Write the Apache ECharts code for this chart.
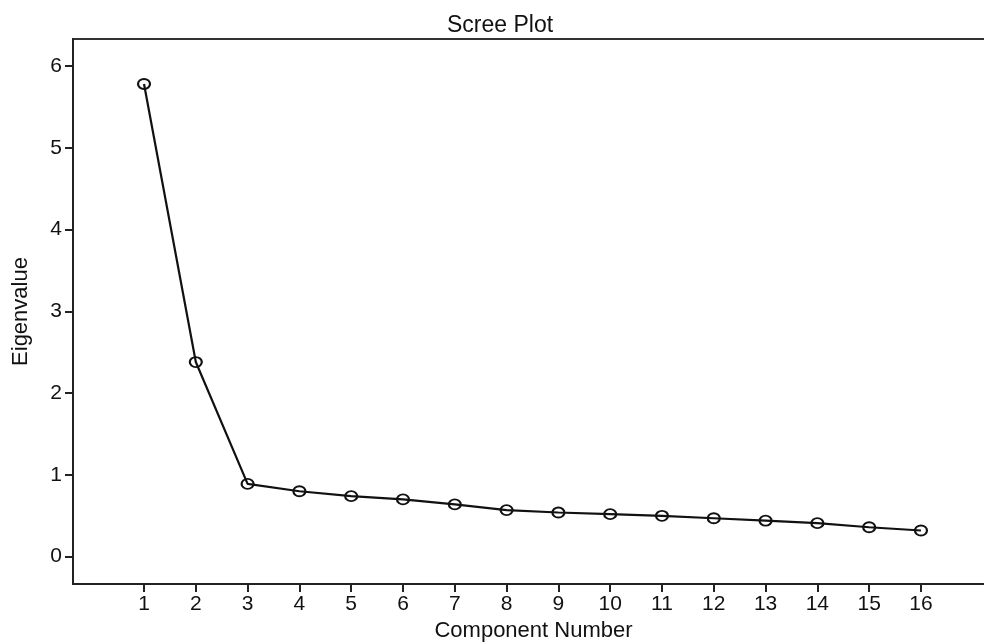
<!DOCTYPE html>
<html>
<head>
<meta charset="utf-8">
<script src="https://cdn.jsdelivr.net/npm/echarts@6/dist/echarts.min.js"></script>
<style>
  html, body { margin: 0; padding: 0; background: #fff; }
</style>
</head>
<body>
<div id="main" style="width: 984px;height:644px;"></div>
<script type="text/javascript">
    // 数据
    var components = [1, 2, 3, 4, 5, 6, 7, 8, 9, 10, 11, 12, 13, 14, 15, 16];
    var eigenvalues = [5.78, 2.38, 0.89, 0.80, 0.74, 0.70, 0.64, 0.57, 0.54, 0.52, 0.50, 0.47, 0.44, 0.41, 0.36, 0.32];
    var xTicks = [1, 2, 3, 4, 5, 6, 7, 8, 9, 10, 11, 12, 13, 14, 15, 16];
    var yTicks = [0, 1, 2, 3, 4, 5, 6];

    var points = components.map(function (c, i) { return [c, eigenvalues[i]]; });

    var myChart = echarts.init(document.getElementById('main'));
    var font = 'Liberation Sans, Arial, sans-serif';

    var option = {
        animation: false,
        title: {
            text: 'Scree Plot',
            left: 442,
            top: 9,
            textStyle: { fontFamily: font, fontSize: 23, fontWeight: 'normal', color: '#111' }
        },
        grid: {
            left: 73,
            right: -10,
            top: 39,
            bottom: 60,
            outerBoundsMode: 'none',
            containLabel: false,
            show: true,
            borderColor: '#333',
            borderWidth: 2
        },
        xAxis: {
            type: 'value',
            min: -0.371,
            max: 17.41,
            name: 'Component Number',
            nameLocation: 'middle',
            nameGap: 36,
            nameTextStyle: { fontFamily: font, fontSize: 22, color: '#111' },
            axisLine: { show: true, onZero: false, lineStyle: { color: '#222', width: 2 } },
            axisTick: { show: true, length: 8, customValues: xTicks, lineStyle: { color: '#222', width: 2 } },
            axisLabel: { customValues: xTicks, margin: 10, fontFamily: font, fontSize: 21, color: '#111' },
            splitLine: { show: false }
        },
        yAxis: {
            type: 'value',
            min: -0.334,
            max: 6.33,
            name: 'Eigenvalue',
            nameLocation: 'middle',
            nameGap: 41,
            nameTextStyle: { fontFamily: font, fontSize: 22, color: '#111' },
            axisLine: { show: true, onZero: false, lineStyle: { color: '#222', width: 2 } },
            axisTick: { show: true, length: 8, customValues: yTicks, lineStyle: { color: '#222', width: 2 } },
            axisLabel: { customValues: yTicks, margin: 11, fontFamily: font, fontSize: 21, color: '#111' },
            splitLine: { show: false }
        },
        series: [
            {
                type: 'line',
                data: points,
                symbol: 'circle',
                symbolSize: [12, 10],
                showAllSymbol: true,
                lineStyle: { color: '#111', width: 2.2 },
                // 空心圆，折线从圆中穿过
                itemStyle: { color: 'rgba(0,0,0,0)', borderColor: '#111', borderWidth: 2 },
                z: 3
            }
        ]
    };
    myChart.setOption(option);
</script>
</body>
</html>
